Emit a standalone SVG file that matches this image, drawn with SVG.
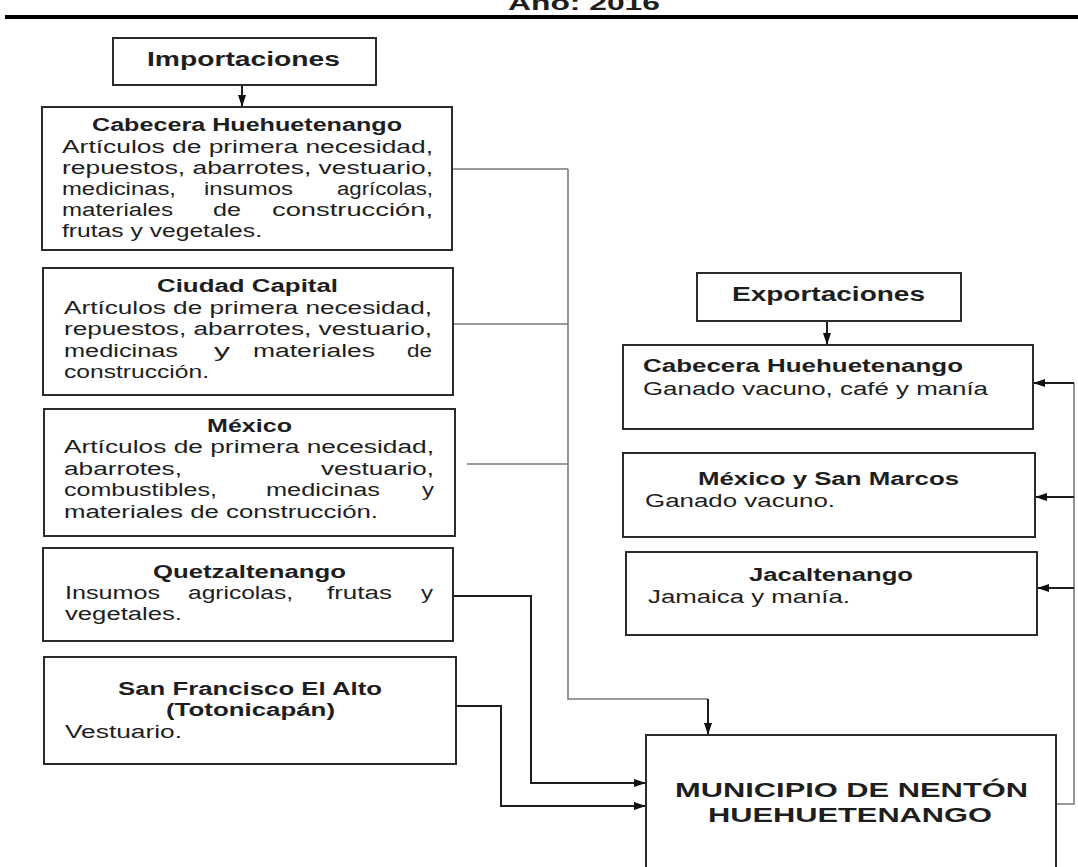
<svg xmlns="http://www.w3.org/2000/svg" width="1078" height="867" viewBox="0 0 1078 867">
<style>
.box{fill:#fff;stroke:#2b2b2b;stroke-width:2}
.t{font-family:"Liberation Sans",Arial,sans-serif;font-size:18px;fill:#1e1e1e}
.b{font-family:"Liberation Sans",Arial,sans-serif;font-size:18px;font-weight:bold;fill:#1e1e1e}
.h{font-family:"Liberation Sans",Arial,sans-serif;font-size:20px;font-weight:bold;fill:#1e1e1e}
.g{fill:none;stroke:#7a7a7a;stroke-width:1.6}
.k{fill:none;stroke:#1e1e1e;stroke-width:2}
</style>
<defs>
<marker id="ah" viewBox="0 0 12 8" refX="12" refY="4" markerWidth="12" markerHeight="8" markerUnits="userSpaceOnUse" orient="auto"><path d="M0,0 L12,4 L0,8 z" fill="#111"/></marker>
</defs>
<rect width="1078" height="867" fill="#fff"/>
<g id="header">
<text class="h" x="508" y="10" font-size="22" textLength="152" lengthAdjust="spacingAndGlyphs">Año: 2016</text>
<rect x="5" y="15" width="1073" height="4" fill="#000"/>
</g>
<g id="connectors">
<path class="k" d="M242,85 V107" marker-end="url(#ah)"/>
<path class="k" d="M827,321 V345" marker-end="url(#ah)"/>
<path class="g" d="M452,169 H568 M453,324 H568 M467,464 H568"/>
<path class="g" d="M568,169 V699 H708"/>
<path class="k" d="M708,699 V735" marker-end="url(#ah)"/>
<path class="k" d="M453,596 H531 V783 H646" marker-end="url(#ah)"/>
<path class="k" d="M456,706 H501 V806 H646" marker-end="url(#ah)"/>
<path class="g" d="M1056,804 H1074 V383"/>
<path class="k" d="M1074,383 H1033" marker-end="url(#ah)"/>
<path class="k" d="M1074,497 H1035" marker-end="url(#ah)"/>
<path class="k" d="M1074,588 H1037" marker-end="url(#ah)"/>
</g>
<g id="importaciones">
<rect class="box" x="113" y="38" width="263" height="47"/>
<text class="h" x="147" y="66" textLength="193" lengthAdjust="spacingAndGlyphs">Importaciones</text>
</g>
<g id="imp-cabecera">
<rect class="box" x="42" y="107" width="410" height="143"/>
<text class="b" x="92" y="131" textLength="310" lengthAdjust="spacingAndGlyphs">Cabecera Huehuetenango</text>
<text class="t" x="62" y="153" textLength="371" lengthAdjust="spacingAndGlyphs">Artículos de primera necesidad,</text>
<text class="t" x="62" y="174" textLength="371" lengthAdjust="spacingAndGlyphs">repuestos, abarrotes, vestuario,</text>
<text class="t" x="62" y="195" textLength="114" lengthAdjust="spacingAndGlyphs">medicinas,</text>
<text class="t" x="204" y="195" textLength="89" lengthAdjust="spacingAndGlyphs">insumos</text>
<text class="t" x="337" y="195" textLength="96" lengthAdjust="spacingAndGlyphs">agrícolas,</text>
<text class="t" x="62" y="216" textLength="111" lengthAdjust="spacingAndGlyphs">materiales</text>
<text class="t" x="213" y="216" textLength="28" lengthAdjust="spacingAndGlyphs">de</text>
<text class="t" x="272" y="216" textLength="161" lengthAdjust="spacingAndGlyphs">construcción,</text>
<text class="t" x="62" y="237" textLength="200" lengthAdjust="spacingAndGlyphs">frutas y vegetales.</text>
</g>
<g id="imp-capital">
<rect class="box" x="43" y="268" width="410" height="127"/>
<text class="b" x="157" y="292" textLength="181" lengthAdjust="spacingAndGlyphs">Ciudad Capital</text>
<text class="t" x="64" y="314" textLength="368" lengthAdjust="spacingAndGlyphs">Artículos de primera necesidad,</text>
<text class="t" x="64" y="335" textLength="368" lengthAdjust="spacingAndGlyphs">repuestos, abarrotes, vestuario,</text>
<text class="t" x="64" y="357" textLength="114" lengthAdjust="spacingAndGlyphs">medicinas</text>
<text class="t" x="214" y="357" textLength="16" lengthAdjust="spacingAndGlyphs">y</text>
<text class="t" x="253" y="357" textLength="122" lengthAdjust="spacingAndGlyphs">materiales</text>
<text class="t" x="407" y="357" textLength="25" lengthAdjust="spacingAndGlyphs">de</text>
<text class="t" x="64" y="378" textLength="145" lengthAdjust="spacingAndGlyphs">construcción.</text>
</g>
<g id="imp-mexico">
<rect class="box" x="44" y="409" width="411" height="127"/>
<text class="b" x="207" y="432" textLength="85" lengthAdjust="spacingAndGlyphs">México</text>
<text class="t" x="64" y="453" textLength="370" lengthAdjust="spacingAndGlyphs">Artículos de primera necesidad,</text>
<text class="t" x="64" y="475" textLength="118" lengthAdjust="spacingAndGlyphs">abarrotes,</text>
<text class="t" x="321" y="475" textLength="113" lengthAdjust="spacingAndGlyphs">vestuario,</text>
<text class="t" x="64" y="496" textLength="153" lengthAdjust="spacingAndGlyphs">combustibles,</text>
<text class="t" x="266" y="496" textLength="114" lengthAdjust="spacingAndGlyphs">medicinas</text>
<text class="t" x="422" y="496" textLength="12" lengthAdjust="spacingAndGlyphs">y</text>
<text class="t" x="64" y="518" textLength="314" lengthAdjust="spacingAndGlyphs">materiales de construcción.</text>
</g>
<g id="imp-quetzaltenango">
<rect class="box" x="43" y="548" width="410" height="93"/>
<text class="b" x="153" y="578" textLength="193" lengthAdjust="spacingAndGlyphs">Quetzaltenango</text>
<text class="t" x="65" y="599" textLength="95" lengthAdjust="spacingAndGlyphs">Insumos</text>
<text class="t" x="188" y="599" textLength="105" lengthAdjust="spacingAndGlyphs">agricolas,</text>
<text class="t" x="327" y="599" textLength="65" lengthAdjust="spacingAndGlyphs">frutas</text>
<text class="t" x="421" y="599" textLength="12" lengthAdjust="spacingAndGlyphs">y</text>
<text class="t" x="65" y="620" textLength="117" lengthAdjust="spacingAndGlyphs">vegetales.</text>
</g>
<g id="imp-sanfrancisco">
<rect class="box" x="44" y="657" width="412" height="107"/>
<text class="b" x="118" y="695" textLength="264" lengthAdjust="spacingAndGlyphs">San Francisco El Alto</text>
<text class="b" x="166" y="716" textLength="169" lengthAdjust="spacingAndGlyphs">(Totonicapán)</text>
<text class="t" x="65" y="738" textLength="117" lengthAdjust="spacingAndGlyphs">Vestuario.</text>
</g>
<g id="exportaciones">
<rect class="box" x="697" y="273" width="264" height="48"/>
<text class="h" x="732" y="301" textLength="193" lengthAdjust="spacingAndGlyphs">Exportaciones</text>
</g>
<g id="exp-cabecera">
<rect class="box" x="623" y="345" width="410" height="84"/>
<text class="b" x="643" y="372" textLength="320" lengthAdjust="spacingAndGlyphs">Cabecera Huehuetenango</text>
<text class="t" x="643" y="395" textLength="345" lengthAdjust="spacingAndGlyphs">Ganado vacuno, café y manía</text>
</g>
<g id="exp-mexico-sanmarcos">
<rect class="box" x="623" y="453" width="412" height="84"/>
<text class="b" x="698" y="485" textLength="261" lengthAdjust="spacingAndGlyphs">México y San Marcos</text>
<text class="t" x="645" y="507" textLength="190" lengthAdjust="spacingAndGlyphs">Ganado vacuno.</text>
</g>
<g id="exp-jacaltenango">
<rect class="box" x="626" y="552" width="411" height="83"/>
<text class="b" x="749" y="581" textLength="164" lengthAdjust="spacingAndGlyphs">Jacaltenango</text>
<text class="t" x="648" y="603" textLength="202" lengthAdjust="spacingAndGlyphs">Jamaica y manía.</text>
</g>
<g id="municipio">
<rect class="box" x="646" y="735" width="410" height="150"/>
<text class="h" x="675" y="797" textLength="353" lengthAdjust="spacingAndGlyphs">MUNICIPIO DE NENTÓN</text>
<text class="h" x="708" y="822" textLength="284" lengthAdjust="spacingAndGlyphs">HUEHUETENANGO</text>
</g>
</svg>
